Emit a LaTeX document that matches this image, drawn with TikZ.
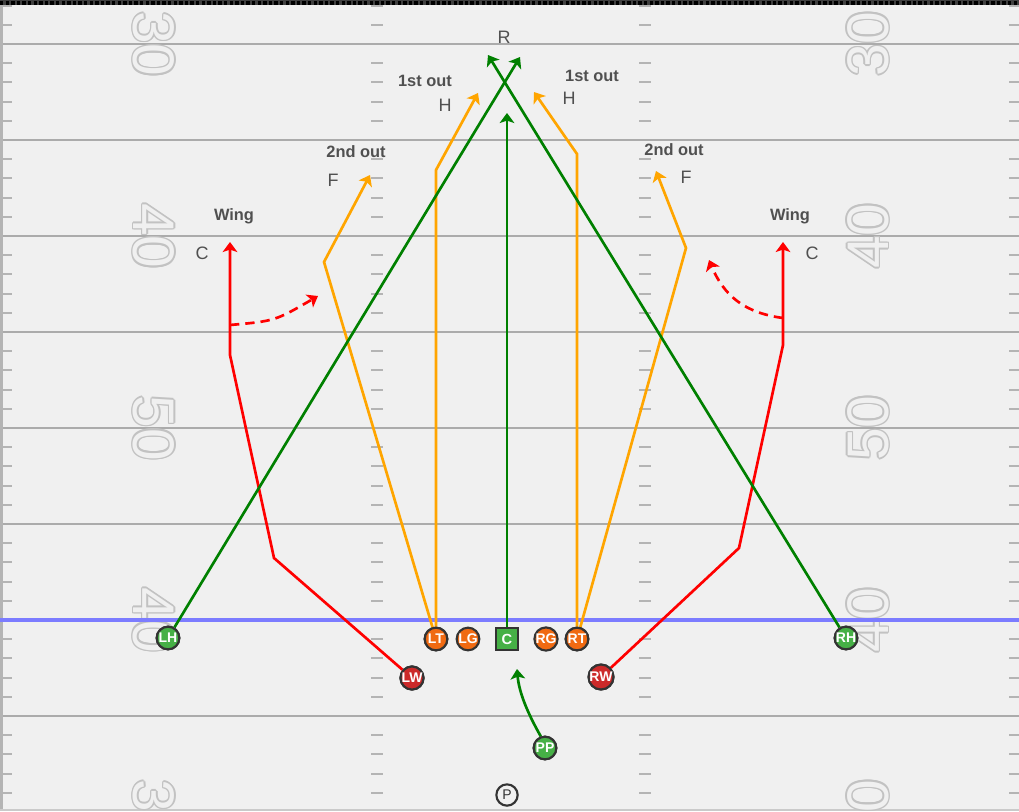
\documentclass[tikz,border=0pt]{standalone}
\usepackage{fontspec}
\setmainfont{Liberation Sans}
\usetikzlibrary{arrows.meta}
\definecolor{fieldbg}{HTML}{F0F0F0}
\definecolor{yardline}{HTML}{ABABAB}
\definecolor{hashc}{HTML}{B4B4B4}
\definecolor{numgray}{HTML}{C2C2C2}
\definecolor{losblue}{HTML}{7C7CFF}
\definecolor{routegreen}{HTML}{008000}
\definecolor{routeorange}{HTML}{FFA500}
\definecolor{routered}{HTML}{FF0000}
\definecolor{plgreen}{HTML}{46B046}
\definecolor{plorange}{HTML}{F06A12}
\definecolor{plred}{HTML}{CC2A2A}
\definecolor{plborder}{HTML}{333333}
\definecolor{labelc}{HTML}{505050}
\newcommand\ringnum[1]{%
 \rlap{\color{numgray}\kern-1.1pt#1}%
 \rlap{\color{numgray}\kern1.1pt#1}%
 \rlap{\color{numgray}\raisebox{1.1pt}{#1}}%
 \rlap{\color{numgray}\raisebox{-1.1pt}{#1}}%
 \rlap{\color{numgray}\kern-.8pt\raisebox{.8pt}{#1}}%
 \rlap{\color{numgray}\kern.8pt\raisebox{.8pt}{#1}}%
 \rlap{\color{numgray}\kern-.8pt\raisebox{-.8pt}{#1}}%
 \rlap{\color{numgray}\kern.8pt\raisebox{-.8pt}{#1}}%
 {\color{fieldbg}#1}}
\begin{document}
\begin{tikzpicture}[x=0.75pt,y=-0.75pt,
  tip/.style={-{Stealth[length=7.5pt,width=11pt,inset=1.8pt]}},
  grn/.style={draw=routegreen,line width=2pt,tip},
  org/.style={draw=routeorange,line width=2pt,tip},
  rd/.style={draw=routered,line width=2pt,tip},
  rdd/.style={draw=routered,line width=2pt,tip,dash pattern=on 7pt off 4.5pt},
  player/.style={circle,minimum size=17pt,inner sep=0pt,draw=plborder,line width=1.6pt,
    text=white,font=\bfseries\fontsize{10.5}{10}\selectfont},
  plg/.style={player,fill=plgreen},
  plo/.style={player,fill=plorange},
  plr/.style={player,fill=plred},
  csq/.style={rectangle,minimum size=16.5pt,inner sep=0pt,draw=plborder,line width=1.6pt,
    fill=plgreen,text=white,font=\bfseries\fontsize{11}{10}\selectfont},
  pbox/.style={circle,minimum size=16pt,inner sep=0pt,draw=plborder,line width=1.6pt,
    fill=fieldbg,text=plborder,font=\fontsize{10.5}{10}\selectfont},
  lab/.style={inner sep=0pt,text=labelc,font=\fontsize{13.5}{14}\selectfont},
  labb/.style={inner sep=0pt,text=labelc,font=\bfseries\fontsize{12.3}{14}\selectfont},
  ynum/.style={inner sep=0pt,font=\fontsize{44}{44}\selectfont}]
\useasboundingbox (0,0) rectangle (1019,811);
\clip (0,0) rectangle (1019,811);
\fill[fieldbg] (0,0) rectangle (1019,811);
% yard lines
\foreach \L in {44,140,236,332,428,524,620,716}
  \draw[yardline,line width=2.2pt] (0,\L) -- (1019,\L);
% hash ticks
\foreach \L in {44,140,236,332,428,524,620,716,812}
  \foreach \k in {-2,-1,1,2} {
    \draw[hashc,line width=1.5pt] (2,\L+19.2*\k) -- (12,\L+19.2*\k);
    \draw[hashc,line width=1.5pt] (371,\L+19.2*\k) -- (383,\L+19.2*\k);
    \draw[hashc,line width=1.5pt] (639,\L+19.2*\k) -- (651,\L+19.2*\k);
    \draw[hashc,line width=1.5pt] (1009,\L+19.2*\k) -- (1019,\L+19.2*\k);
  }
\draw[hashc,line width=1.6pt] (1.5,5) -- (1.5,811);
\draw[hashc!70,line width=0.8pt] (0,810) -- (1019,810);
% yard numbers
\node[ynum,rotate=-90] (nl1) at (154,44) {\ringnum{30}};
\node[ynum,rotate=-90] (nl2) at (154,236) {\ringnum{40}};
\node[ynum,rotate=-90] (nl3) at (154,428) {\ringnum{50}};
\node[ynum,rotate=-90] (nl4) at (154,620) {\ringnum{40}};
\node[ynum,rotate=-90] (nl5) at (154,812) {\ringnum{30}};
\node[ynum,rotate=90] (nr1) at (868,44) {\ringnum{30}};
\node[ynum,rotate=90] (nr2) at (868,236) {\ringnum{40}};
\node[ynum,rotate=90] (nr3) at (868,428) {\ringnum{50}};
\node[ynum,rotate=90] (nr4) at (868,620) {\ringnum{40}};
\node[ynum,rotate=90] (nr5) at (868,812) {\ringnum{30}};
% line of scrimmage
\draw[losblue,line width=2.4pt] (0,620) -- (1019,620);
% top strip
\fill[black!75] (0,0) rectangle (1019,5);
\draw[black,line width=3pt,dash pattern=on 2.6pt off 1.6pt] (0,2.5) -- (1019,2.5);
% players
\node[plg] (LH) at (168,638) {LH};
\node[plo] (LT) at (436,639) {LT};
\node[plo] (LG) at (468,639) {LG};
\node[csq] (C) at (507,639) {C};
\node[plo] (RG) at (546,639) {RG};
\node[plo] (RT) at (577,639) {RT};
\node[plr] (LW) at (412,678) {LW};
\node[plr] (RW) at (601,677) {RW};
\node[plg] (RH) at (846,638) {RH};
\node[plg] (PP) at (545,748) {PP};
\node[pbox] (P) at (507,795) {P};
% route points
\coordinate (tLH) at (520,57);
\coordinate (tRH) at (488,55);
\coordinate (tC) at (507,113);
\coordinate (tPP) at (517,669);
\coordinate (bLT1) at (436,170); \coordinate (tLT1) at (478,93);
\coordinate (bLT2) at (324,262); \coordinate (tLT2) at (370,175);
\coordinate (bRT1) at (577,154); \coordinate (tRT1) at (534,92);
\coordinate (bRT2) at (686,248); \coordinate (tRT2) at (656,171);
\coordinate (bLW1) at (274,558); \coordinate (bLW2) at (230,355); \coordinate (tLW) at (230,242);
\coordinate (dLs) at (230,325); \coordinate (dLt) at (318,296);
\coordinate (bRW1) at (739,548); \coordinate (bRW2) at (783,345); \coordinate (tRW) at (783,242);
\coordinate (dRs) at (783,318); \coordinate (dRt) at (709,260);
% routes
\draw[org] (LT) -- (bLT1) -- (tLT1);
\draw[org] (LT) -- (bLT2) -- (tLT2);
\draw[org] (RT) -- (bRT1) -- (tRT1);
\draw[org] (RT) -- (bRT2) -- (tRT2);
\draw[rd] (LW) -- (bLW1) -- (bLW2) -- (tLW);
\draw[rd] (RW) -- (bRW1) -- (bRW2) -- (tRW);
\draw[rdd] (dLs) .. controls (275,321) .. (dLt);
\draw[rdd] (dRs) .. controls (745,313) and (724,296) .. (dRt);
\draw[grn] (LH) -- (tLH);
\draw[grn] (RH) -- (tRH);
\draw[grn] (C) -- (tC);
\draw[grn] (PP.110) .. controls (527,712) and (519,692) .. (tPP);
% redraw players on top
\node[plg] (LH2) at (LH) {LH};
\node[plo] (LT2) at (LT) {LT};
\node[plo] (RT2) at (RT) {RT};
\node[csq] (C2) at (C) {C};
\node[plr] (LW2) at (LW) {LW};
\node[plr] (RW2) at (RW) {RW};
\node[plg] (RH2) at (RH) {RH};
\node[plg] (PP2) at (PP) {PP};
% labels
\node[lab] (lR) at (504,37) {R};
\node[labb] (l1L) at (425,81) {1st out};
\node[lab] (hL) at (445,105) {H};
\node[labb] (l1R) at (592,76) {1st out};
\node[lab] (hR) at (569,98) {H};
\node[labb] (l2L) at (356,152) {2nd out};
\node[lab] (fL) at (333,180) {F};
\node[labb] (l2R) at (674,150) {2nd out};
\node[lab] (fR) at (686,177) {F};
\node[labb] (wL) at (234,216) {Wing};
\node[lab] (cL) at (202,253) {C};
\node[labb] (wR) at (790,216) {Wing};
\node[lab] (cR) at (812,253) {C};
\end{tikzpicture}
\end{document}
